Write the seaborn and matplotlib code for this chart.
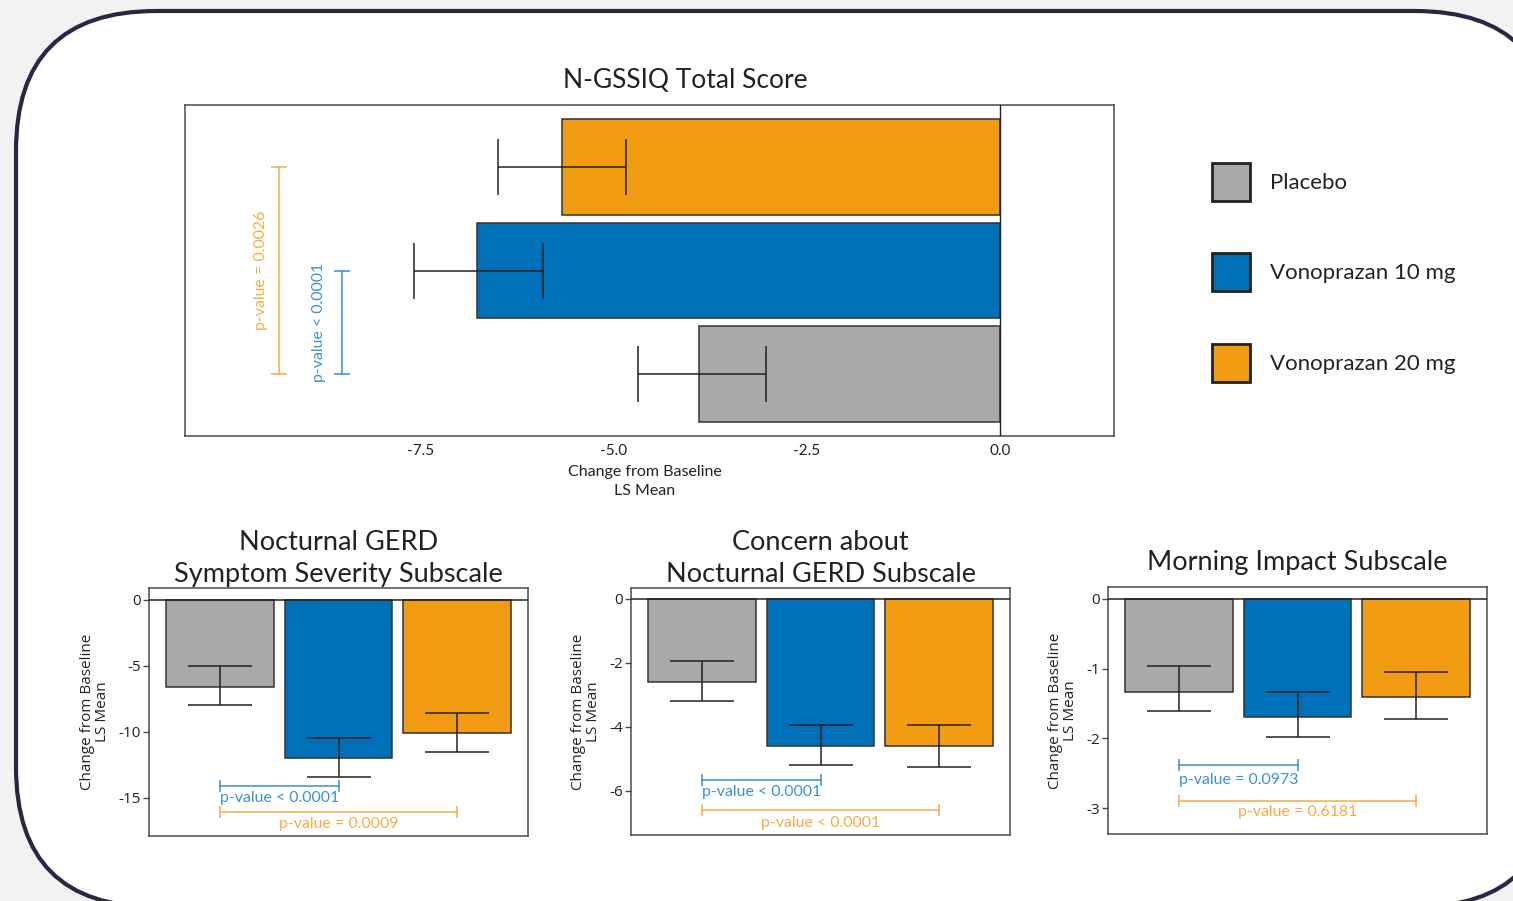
import matplotlib
matplotlib.use("Agg")
import matplotlib.pyplot as plt
import seaborn as sns
import pandas as pd
from matplotlib.patches import FancyBboxPatch, Patch
from matplotlib.transforms import IdentityTransform

# ---------------- data ----------------
treatments = ["Placebo", "Vonoprazan 10 mg", "Vonoprazan 20 mg"]
bar_colors = ["#a9a9a9", "#0071b9", "#f29c13"]
pv_blue = "#3d90d2"
pv_orange = "#f6ac45"

total_title = "N-GSSIQ Total Score"
total_mean = [-3.89, -6.77, -5.67]
total_lo = [-4.68, -7.58, -6.50]
total_hi = [-3.03, -5.92, -4.84]
total_pvals = ["p-value < 0.0001", "p-value = 0.0026"]
total_xticks = [-7.5, -5.0, -2.5, 0.0]

nsss_title = "Nocturnal GERD\nSymptom Severity Subscale"
nsss_mean = [-6.6, -12.0, -10.1]
nsss_lo = [-8.0, -13.4, -11.5]
nsss_hi = [-5.0, -10.5, -8.6]
nsss_pvals = ["p-value < 0.0001", "p-value = 0.0009"]
nsss_yticks = [0, -5, -10, -15]

cng_title = "Concern about\nNocturnal GERD Subscale"
cng_mean = [-2.6, -4.58, -4.58]
cng_lo = [-3.18, -5.19, -5.24]
cng_hi = [-1.93, -3.94, -3.94]
cng_pvals = ["p-value < 0.0001", "p-value < 0.0001"]
cng_yticks = [0, -2, -4, -6]

mis_title = "Morning Impact Subscale"
mis_mean = [-1.33, -1.69, -1.41]
mis_lo = [-1.60, -1.98, -1.72]
mis_hi = [-0.96, -1.33, -1.05]
mis_pvals = ["p-value = 0.0973", "p-value = 0.6181"]
mis_yticks = [0, -1, -2, -3]

# ---------------- style ----------------
plt.rcParams["font.family"] = ["Lato", "DejaVu Sans"]
plt.rcParams["axes.unicode_minus"] = False
palette = dict(zip(treatments, bar_colors))
SPINE = "#4a4a4a"
EDGE = "#333333"
TXT = "#222222"
W, H = 1513, 901

fig = plt.figure(figsize=(W / 100, H / 100), dpi=100)
fig.patch.set_facecolor("#f2f2f2")

# rounded frame (pixel coordinates), drawn beneath the axes
frame = FancyBboxPatch((16, H - 907), 1539, 896,
                       boxstyle="round,pad=0,rounding_size=140",
                       transform=IdentityTransform(), facecolor="white",
                       edgecolor="#2a2745", linewidth=3.0, zorder=-10)
fig.patches.append(frame)


def px_axes(x0, y0, x1, y1):
    return fig.add_axes([x0 / W, (H - y1) / H, (x1 - x0) / W, (y1 - y0) / H])


def style_spines(ax):
    for s in ax.spines.values():
        s.set_visible(True)
        s.set_color(SPINE)
        s.set_linewidth(1.1)


# ---------------- top chart ----------------
ax = px_axes(185, 105, 1114, 436)
top_order = ["Vonoprazan 20 mg", "Vonoprazan 10 mg", "Placebo"]
df_top = pd.DataFrame({"treatment": treatments, "mean": total_mean,
                       "lo": total_lo, "hi": total_hi})
sns.barplot(data=df_top, x="mean", y="treatment", hue="treatment",
            order=top_order, hue_order=treatments, palette=palette,
            orient="h", width=0.92, edgecolor=EDGE, linewidth=1.1,
            saturation=1, legend=False, errorbar=None, ax=ax)
pos = [top_order.index(t) for t in df_top["treatment"]]
ax.errorbar(x=df_top["mean"], y=pos,
            xerr=[df_top["mean"] - df_top["lo"], df_top["hi"] - df_top["mean"]],
            fmt="none", ecolor=TXT, elinewidth=1.1, capsize=20,
            capthick=1.1, zorder=5)
ax.axvline(0, color=TXT, lw=1.0, zorder=4)
ax.set_xlim(-10.55, 1.48)
ax.set_ylim(2.6, -0.6)
ax.set_yticks([])
ax.set_ylabel("")
ax.set_xticks(total_xticks)
ax.set_xticklabels([f"{v:.1f}" for v in total_xticks], fontsize=11)
ax.tick_params(axis="x", length=0, pad=6, colors=TXT)
ax.set_xlabel("Change from Baseline\nLS Mean", fontsize=11.5,
              labelpad=5, linespacing=1.4, color=TXT)
ax.xaxis.label.set_x(0.495)
ax.set_title(total_title, fontsize=19, pad=12, color=TXT, x=0.539)
style_spines(ax)

# brackets (vertical)
i20, i10, ipl = (top_order.index(t) for t in
                 ["Vonoprazan 20 mg", "Vonoprazan 10 mg", "Placebo"])
for xb, xt, ia, txt, col in [(-9.33, -9.56, i20, total_pvals[1], pv_orange),
                             (-8.52, -8.81, i10, total_pvals[0], pv_blue)]:
    ax.plot([xb, xb], [ia, ipl], color=col, lw=1.1)
    ax.plot([xb, xb], [ia, ipl], ls="none", marker="_", ms=12, mew=1.1, color=col)
    ax.text(xt, (ia + ipl) / 2, txt, rotation=90, ha="center", va="center",
            color=col, fontsize=11.4)


# ---------------- bottom charts ----------------
def bottom_chart(box, title, mean, lo, hi, pvals, yticks, ylim,
                 bracket_y, text_y, title_pad):
    ax = px_axes(*box)
    df = pd.DataFrame({"treatment": treatments, "mean": mean, "lo": lo, "hi": hi})
    sns.barplot(data=df, x="treatment", y="mean", hue="treatment",
                order=treatments, palette=palette, width=0.91, saturation=1,
                edgecolor=EDGE, linewidth=1.1, legend=False, errorbar=None, ax=ax)
    ax.errorbar(x=range(len(df)), y=df["mean"],
                yerr=[df["mean"] - df["lo"], df["hi"] - df["mean"]],
                fmt="none", ecolor=TXT, elinewidth=1.1, capsize=23,
                capthick=1.1, zorder=5)
    ax.axhline(0, color=TXT, lw=1.1, zorder=4)
    ax.set_xlim(-0.6, 2.6)
    ax.set_ylim(*ylim)
    ax.set_xticks([])
    ax.set_xlabel("")
    ax.set_yticks(yticks)
    ax.set_yticklabels([str(v) for v in yticks],
                       family=["Open Sans", "DejaVu Sans"], fontsize=11)
    ax.tick_params(axis="y", length=4, width=1.0, color=SPINE, pad=2,
                   labelcolor=TXT)
    ax.set_ylabel("Change from Baseline\nLS Mean",
                  family=["Open Sans", "DejaVu Sans"], fontsize=11,
                  labelpad=6, linespacing=1.0, color=TXT)
    ax.set_title(title, fontsize=19.5, pad=title_pad, linespacing=1.38,
                 color=TXT)
    style_spines(ax)
    # p-value brackets
    for (x0, x1), by, ty, txt, col in [((0, 1), bracket_y[0], text_y[0], pvals[0], pv_blue),
                                       ((0, 2), bracket_y[1], text_y[1], pvals[1], pv_orange)]:
        ax.plot([x0, x1], [by, by], color=col, lw=1.1)
        ax.plot([x0, x1], [by, by], ls="none", marker="|", ms=8, mew=1.1, color=col)
        ax.text((x0 + x1) / 2, ty, txt, ha="center", va="center",
                color=col, fontsize=11.4)
    return ax


bottom_chart((149, 588, 528, 836), nsss_title, nsss_mean, nsss_lo, nsss_hi,
             nsss_pvals, nsss_yticks, (-17.9, 0.9), (-14.1, -16.1), (-15.0, -17.0), 4)
bottom_chart((631, 588, 1010, 835), cng_title, cng_mean, cng_lo, cng_hi,
             cng_pvals, cng_yticks, (-7.375, 0.34), (-5.66, -6.6), (-6.02, -7.0), 4)
bottom_chart((1108, 587, 1487, 834), mis_title, mis_mean, mis_lo, mis_hi,
             mis_pvals, mis_yticks, (-3.37, 0.17), (-2.38, -2.89), (-2.59, -3.05), 12)

# ---------------- legend ----------------
handles = [Patch(facecolor=c, edgecolor=TXT, linewidth=2.0, label=t)
           for t, c in zip(treatments, bar_colors)]
fig.legend(handles=handles, loc="upper left",
           bbox_to_anchor=(1212 / W, 1 - 163 / H), frameon=False, fontsize=16,
           handlelength=1.71, handleheight=2.26, handletextpad=0.9,
           labelspacing=2.35, borderpad=0, borderaxespad=0,
           labelcolor=TXT)

fig.savefig("out.png", dpi=100, facecolor=fig.get_facecolor())
